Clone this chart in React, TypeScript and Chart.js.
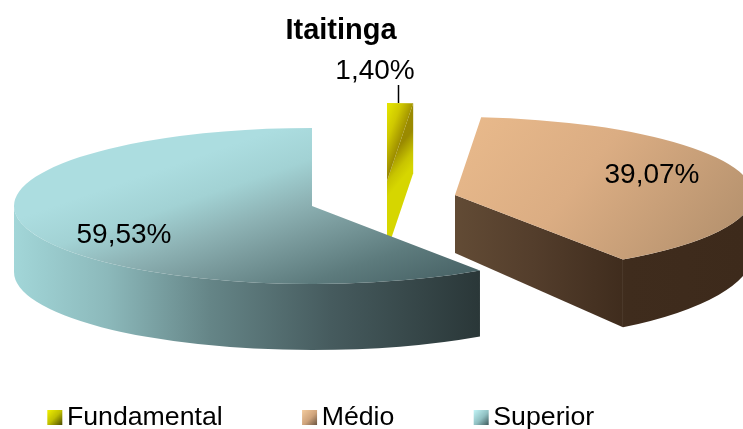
import React, { useEffect, useRef } from "react";
import { Chart, registerables } from "chart.js";

Chart.register(...registerables);

const chartTitle = "Itaitinga";
const categories = ["Fundamental", "Médio", "Superior"];
const shares = [1.4, 39.07, 59.53];

const FONT = "'Liberation Sans', Arial, sans-serif";
const RX = 298;

type Stop = [number, string];
type Grad = { from: [number, number]; to: [number, number]; stops: Stop[] };
type Look = {
  cx: number; cy: number; ry: number;
  bx: number; by: number; bry: number;
  top: Grad; wall: Grad; face: Grad;
  label: [number, number];
};

const looks: Look[] = [
  {
    cx: 387, cy: 181, ry: 78, bx: 387, by: 251, bry: 78,
    top: { from: [387, 110], to: [410, 119], stops: [[0, "#e2e200"], [0.45, "#cfc800"], [1, "#9a8a00"]] },
    wall: { from: [387, 0], to: [413, 0], stops: [[0, "#888"], [1, "#888"]] },
    face: { from: [396, 150], to: [414, 165], stops: [[0, "#9a8a00"], [0.6, "#c8c400"], [1, "#d6d600"]] },
    label: [375, 71],
  },
  {
    cx: 455, cy: 195, ry: 78, bx: 455, by: 253, bry: 90,
    top: { from: [480, 110], to: [690, 280], stops: [[0, "#e8b98b"], [0.45, "#dbad83"], [1, "#b7936f"]] },
    wall: { from: [455, 0], to: [743, 0], stops: [[0, "#614a34"], [0.3, "#4f3a28"], [0.6, "#3f2c1d"], [1, "#3d2a1b"]] },
    face: { from: [455, 0], to: [625, 0], stops: [[0, "#624b35"], [0.45, "#543e2c"], [1, "#3f2c1d"]] },
    label: [652, 175],
  },
  {
    cx: 312, cy: 206, ry: 78, bx: 312, by: 272, bry: 78,
    top: { from: [309, 118], to: [373, 304], stops: [[0, "#acdde0"], [0.2, "#a2d2d4"], [0.4, "#8db2b4"], [0.55, "#7b9c9e"], [0.79, "#5d7b7d"], [1, "#4a6568"]] },
    wall: { from: [14, 0], to: [480, 0], stops: [[0, "#a2d6d8"], [0.2, "#8cb9bb"], [0.42, "#658587"], [0.68, "#465b5e"], [1, "#2a3738"]] },
    face: { from: [312, 0], to: [480, 0], stops: [[0, "#333"], [1, "#333"]] },
    label: [124, 235],
  },
];

const swatches: Stop[][] = [
  [[0, "#f2f200"], [0.5, "#c0c000"], [1, "#4a4a00"]],
  [[0, "#f5cc9e"], [0.55, "#cfa47c"], [1, "#6c5642"]],
  [[0, "#c4f6f8"], [0.55, "#90c0c2"], [1, "#3f5a5c"]],
];

function paint(ctx: CanvasRenderingContext2D, g: Grad) {
  const lg = ctx.createLinearGradient(g.from[0], g.from[1], g.to[0], g.to[1]);
  g.stops.forEach(([o, c]) => lg.addColorStop(o, c));
  return lg;
}

function makeSwatch(stops: Stop[]) {
  const c = document.createElement("canvas");
  c.width = 30;
  c.height = 15;
  const x = c.getContext("2d")!;
  const lg = x.createLinearGradient(12, 0, 27, 15);
  stops.forEach(([o, col]) => lg.addColorStop(o, col));
  x.fillStyle = lg;
  x.fillRect(12, 0, 15, 15);
  return c;
}

const pie3d = {
  id: "pie3d",
  afterLayout(chart: any) {
    if (chart.titleBlock) chart.titleBlock.right = 682;
    if (chart.legend) {
      chart.legend.left = -32;
      chart.legend.top = 325;
    }
  },
  beforeDatasetsDraw(chart: any) {
    const ctx: CanvasRenderingContext2D = chart.ctx;
    const arcs = chart.getDatasetMeta(0).data;
    arcs.forEach((arc: any, i: number) => {
      const k = looks[i];
      const a0: number = arc.startAngle;
      const a1: number = arc.endAngle;

      // outer wall: the part of the rim that faces the viewer
      const from = Math.max(a0, 0);
      const to = Math.min(a1, Math.PI);
      if (to > from) {
        ctx.beginPath();
        ctx.ellipse(k.cx, k.cy, RX, k.ry, 0, from, to);
        ctx.ellipse(k.bx, k.by, RX, k.bry, 0, to, from, true);
        ctx.closePath();
        ctx.fillStyle = paint(ctx, k.wall);
        ctx.fill();
      }

      // radial cut at the clockwise end, when it faces the viewer
      if (Math.cos(a1) > 0.001) {
        ctx.beginPath();
        ctx.moveTo(k.cx, k.cy);
        ctx.lineTo(k.cx + RX * Math.cos(a1), k.cy + k.ry * Math.sin(a1));
        ctx.lineTo(k.bx + RX * Math.cos(a1), k.by + k.bry * Math.sin(a1));
        ctx.lineTo(k.bx, k.by);
        ctx.closePath();
        ctx.fillStyle = paint(ctx, k.face);
        ctx.fill();
      }

      // top surface
      ctx.beginPath();
      ctx.moveTo(k.cx, k.cy);
      ctx.ellipse(k.cx, k.cy, RX, k.ry, 0, a0, a1);
      ctx.closePath();
      ctx.fillStyle = paint(ctx, k.top);
      ctx.fill();
    });
    return false;
  },
  afterDraw(chart: any) {
    const ctx: CanvasRenderingContext2D = chart.ctx;
    const values: number[] = chart.data.datasets[0].data;
    ctx.save();
    ctx.fillStyle = "#000";
    ctx.font = `28px ${FONT}`;
    ctx.textAlign = "center";
    ctx.textBaseline = "middle";
    values.forEach((v, i) => {
      const [x, y] = looks[i].label;
      ctx.fillText(`${v.toFixed(2).replace(".", ",")}%`, x, y);
    });
    // leader line of the small slice
    ctx.strokeStyle = "#000";
    ctx.lineWidth = 1.5;
    ctx.beginPath();
    ctx.moveTo(398.5, 85);
    ctx.lineTo(398.5, 103);
    ctx.stroke();
    ctx.restore();
  },
};

export default function App() {
  const ref = useRef<HTMLCanvasElement>(null);
  useEffect(() => {
    const chart = new Chart(ref.current!, {
      type: "pie",
      data: {
        labels: categories,
        datasets: [{ data: shares, backgroundColor: ["#d8d800", "#dcae84", "#a2d2d4"], borderWidth: 0 }],
      },
      options: {
        responsive: false,
        animation: false,
        events: [],
        plugins: {
          tooltip: { enabled: false },
          title: {
            display: true,
            text: chartTitle,
            color: "#000",
            padding: { top: 14, bottom: 0 },
            font: { family: FONT, size: 29, weight: "bold" },
          },
          legend: {
            position: "bottom",
            align: "start",
            labels: {
              color: "#000",
              padding: 79,
              usePointStyle: true,
              pointStyleWidth: 6.6,
              boxHeight: 15,
              font: { family: FONT, size: 26.7 },
              generateLabels: () =>
                categories.map((text, i) => ({
                  text,
                  pointStyle: makeSwatch(swatches[i]),
                  fillStyle: "transparent",
                  strokeStyle: "transparent",
                  lineWidth: 0,
                  hidden: false,
                  index: i,
                })),
            },
          },
        },
      } as any,
      plugins: [pie3d as any],
    });
    return () => chart.destroy();
  }, []);
  return (
    <canvas
      ref={ref}
      width={743}
      height={429}
      style={{ position: "absolute", left: 0, top: 0, display: "block" }}
    />
  );
}
